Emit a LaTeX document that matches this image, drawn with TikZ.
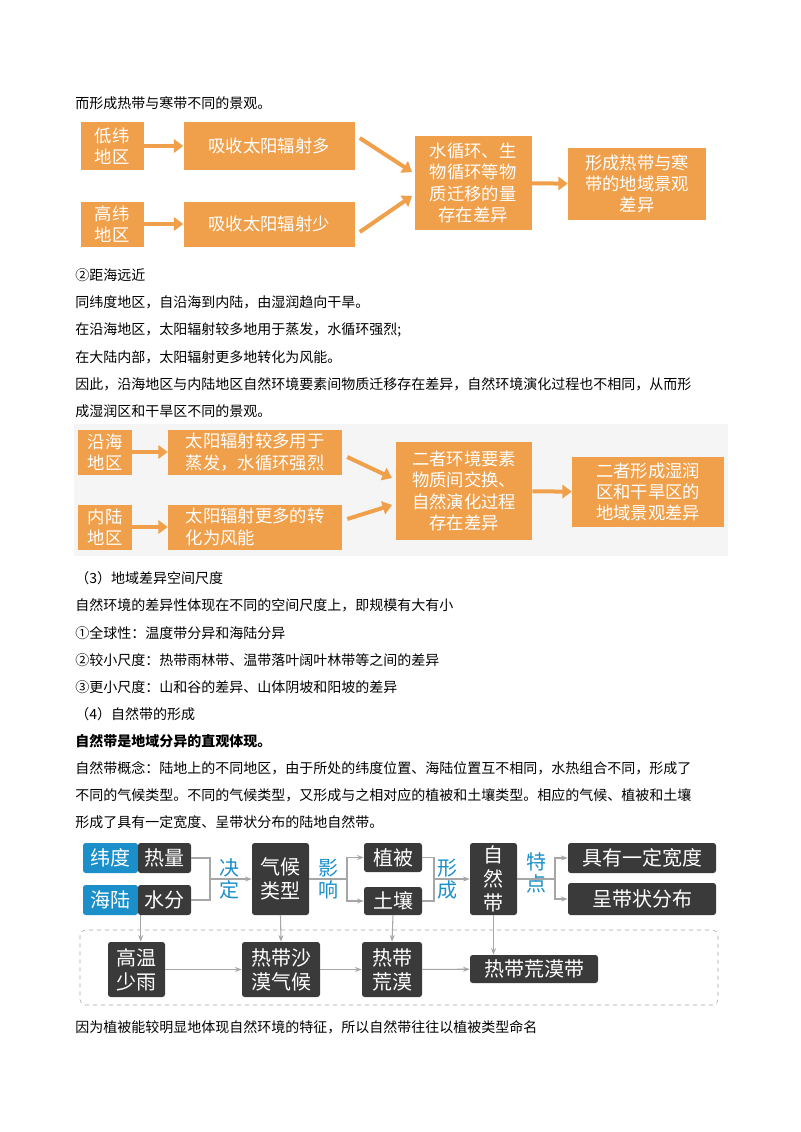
\documentclass[tikz,border=0pt]{standalone}
\usepackage{fontspec}
\setmainfont{Noto Sans CJK SC}
\usetikzlibrary{arrows.meta}
\definecolor{og}{HTML}{F0A04B}
\definecolor{dk}{HTML}{3A3A3A}
\definecolor{bl}{HTML}{1A8FC9}
\begin{document}
\begin{tikzpicture}[x=0.75pt,y=-0.75pt,
 tx/.style={anchor=west,inner sep=0,font=\fontsize{10.5pt}{12pt}\selectfont},
 ob/.style={fill=og,text=white,align=center,font=\fontsize{13pt}{16pt}\selectfont,inner sep=2pt},
 oa/.style={draw=og,line width=3pt,-{Triangle[length=7pt,width=10pt]}},
 db/.style={fill=dk,text=white,align=center,rounded corners=2pt,font=\fontsize{15pt}{18pt}\selectfont,inner sep=1pt},
 bb/.style={fill=bl,text=white,align=center,rounded corners=2pt,font=\fontsize{15pt}{18pt}\selectfont,inner sep=1pt},
 bt/.style={text=bl,align=center,font=\fontsize{15pt}{17pt}\selectfont,inner sep=0},
 ga/.style={draw=gray!70,line width=0.8pt,-{Stealth[length=5pt]}},
 gl/.style={draw=gray!70,line width=0.8pt}]
\useasboundingbox (0,0) rectangle (800,1132);
\fill[white] (0,0) rectangle (800,1132);
\node[tx] (t1) at (75,103) {而形成热带与寒带不同的景观。};
% diagram 1
\node[ob,minimum width=63*0.75pt,minimum height=48*0.75pt] (a1) at (112,146) {低纬\\地区};
\node[ob,minimum width=171*0.75pt,minimum height=48*0.75pt] (a2) at (269,146) {吸收太阳辐射多};
\node[ob,minimum width=63*0.75pt,minimum height=45*0.75pt] (b1) at (112,224) {高纬\\地区};
\node[ob,minimum width=171*0.75pt,minimum height=45*0.75pt] (b2) at (269,224) {吸收太阳辐射少};
\node[ob,minimum width=117*0.75pt,minimum height=94*0.75pt] (m1) at (473,183) {水循环、生\\物循环等物\\质迁移的量\\存在差异};
\node[ob,minimum width=138*0.75pt,minimum height=72*0.75pt] (r1) at (637,184) {形成热带与寒\\带的地域景观\\差异};
\draw[oa] (a1) -- (a2);
\draw[oa] (b1) -- (b2);
\draw[oa] (a2.east) ++(5,-8) -- (412,172);
\draw[oa] (b2.east) ++(5,8) -- (412,196);
\draw[oa] (m1) -- (r1);
\node[tx] at (75,275) {②距海远近};
\node[tx] at (75,302) {同纬度地区，自沿海到内陆，由湿润趋向干旱。};
\node[tx] at (75,330) {在沿海地区，太阳辐射较多地用于蒸发，水循环强烈;};
\node[tx] at (75,357) {在大陆内部，太阳辐射更多地转化为风能。};
\node[tx] at (75,384) {因此，沿海地区与内陆地区自然环境要素间物质迁移存在差异，自然环境演化过程也不相同，从而形};
\node[tx] at (75,411) {成湿润区和干旱区不同的景观。};
% diagram 2
\fill[gray!8] (74,424) rectangle (728,556);
\node[ob,minimum width=54*0.75pt,minimum height=45*0.75pt] (c1) at (105,452) {沿海\\地区};
\node[ob,minimum width=174*0.75pt,minimum height=45*0.75pt,align=left] (c2) at (255,452) {太阳辐射较多用于\\蒸发，水循环强烈};
\node[ob,minimum width=54*0.75pt,minimum height=45*0.75pt] (d1) at (105,527) {内陆\\地区};
\node[ob,minimum width=174*0.75pt,minimum height=45*0.75pt,align=left] (d2) at (255,527) {太阳辐射更多的转\\化为风能};
\node[ob,minimum width=136*0.75pt,minimum height=98*0.75pt] (m2) at (464,491) {二者环境要素\\物质间交换、\\自然演化过程\\存在差异};
\node[ob,minimum width=152*0.75pt,minimum height=70*0.75pt] (r2) at (648,492) {二者形成湿润\\区和干旱区的\\地域景观差异};
\draw[oa] (c1) -- (c2);
\draw[oa] (d1) -- (d2);
\draw[oa] (c2.east) ++(5,5) -- (392,478);
\draw[oa] (d2.east) ++(5,-8) -- (392,505);
\draw[oa] (m2) -- (r2);
\node[tx] at (75,578) {（3）地域差异空间尺度};
\node[tx] at (75,605) {自然环境的差异性体现在不同的空间尺度上，即规模有大有小};
\node[tx] at (75,633) {①全球性：温度带分异和海陆分异};
\node[tx] at (75,660) {②较小尺度：热带雨林带、温带落叶阔叶林带等之间的差异};
\node[tx] at (75,687) {③更小尺度：山和谷的差异、山体阴坡和阳坡的差异};
\node[tx] at (75,714) {（4）自然带的形成};
\node[tx,font=\fontsize{10.5pt}{12pt}\selectfont\bfseries] at (75,741) {自然带是地域分异的直观体现。};
\node[tx] at (75,768) {自然带概念：陆地上的不同地区，由于所处的纬度位置、海陆位置互不相同，水热组合不同，形成了};
\node[tx] at (75,795) {不同的气候类型。不同的气候类型，又形成与之相对应的植被和土壤类型。相应的气候、植被和土壤};
\node[tx] at (75,822) {形成了具有一定宽度、呈带状分布的陆地自然带。};
% diagram 3
\draw[gray!70,dashed,rounded corners=4pt] (80,930) rectangle (718,1005);
\node[bb,minimum width=55*0.75pt,minimum height=30*0.75pt] (e1) at (110.5,858) {纬度};
\node[db,minimum width=53*0.75pt,minimum height=30*0.75pt] (e2) at (164.5,858) {热量};
\node[bb,minimum width=55*0.75pt,minimum height=30*0.75pt] (f1) at (110.5,900) {海陆};
\node[db,minimum width=53*0.75pt,minimum height=30*0.75pt] (f2) at (164.5,900) {水分};
\node[db,minimum width=57*0.75pt,minimum height=72*0.75pt] (g) at (280.5,879) {气候\\类型};
\node[db,minimum width=58*0.75pt,minimum height=29*0.75pt] (h1) at (393,857.5) {植被};
\node[db,minimum width=58*0.75pt,minimum height=28*0.75pt] (h2) at (393,901) {土壤};
\node[db,minimum width=47*0.75pt,minimum height=72*0.75pt] (z) at (493.5,879) {自\\然\\带};
\node[db,minimum width=148*0.75pt,minimum height=30*0.75pt] (k1) at (642,858) {具有一定宽度};
\node[db,minimum width=148*0.75pt,minimum height=32*0.75pt] (k2) at (642,899) {呈带状分布};
\node[bt] (w1) at (229,879) {决\\定};
\node[bt] (w2) at (328,879) {影\\响};
\node[bt] (w3) at (447,879) {形\\成};
\node[bt] (w4) at (536,873) {特\\点};
\node[db,minimum width=57*0.75pt,minimum height=55*0.75pt] (p1) at (136.5,969.5) {高温\\少雨};
\node[db,minimum width=78*0.75pt,minimum height=55*0.75pt] (p2) at (281,969.5) {热带沙\\漠气候};
\node[db,minimum width=60*0.75pt,minimum height=55*0.75pt] (p3) at (392,969.5) {热带\\荒漠};
\node[db,minimum width=128*0.75pt,minimum height=28*0.75pt] (p4) at (534,969) {热带荒漠带};
\coordinate (j1) at (210,879);
\draw[gl] (e2.east) -| (j1);
\draw[gl] (f2.east) -| (j1);
\draw[ga] (j1) -- (g.west|-j1);
\coordinate (j2) at (347,879);
\draw[gl] (g.east|-j2) -- (j2);
\draw[ga] (j2) |- (h1.west);
\draw[ga] (j2) |- (h2.west);
\coordinate (j3) at (434,879);
\draw[gl] (h1.east) -| (j3);
\draw[gl] (h2.east) -| (j3);
\draw[ga] (j3) -- (z.west|-j3);
\coordinate (j4) at (555,879);
\draw[gl] (z.east|-j4) -- (j4);
\draw[ga] (j4) |- (k1.west);
\draw[ga] (j4) |- (k2.west);
\draw[ga] (f2.south west) ++(3,0) coordinate (v1) -- (v1|-p1.north);
\draw[ga] (g.south) -- (p2.north);
\draw[ga] (h2.south) -- (p3.north);
\draw[ga] (z.south) -- (z.south|-p4.north);
\draw[ga] (p1) -- (p2);
\draw[ga] (p2) -- (p3);
\draw[ga] (p3) -- (p4);
\node[tx] at (75,1027) {因为植被能较明显地体现自然环境的特征，所以自然带往往以植被类型命名};
\end{tikzpicture}
\end{document}
